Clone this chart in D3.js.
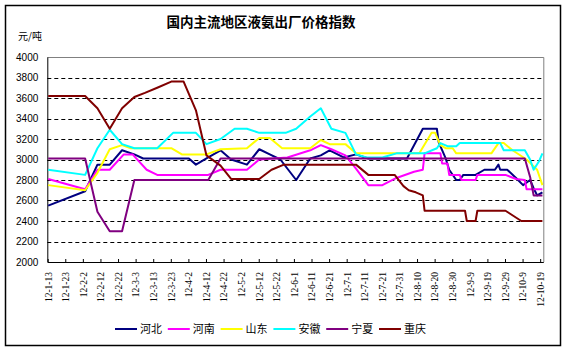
<!DOCTYPE html>
<html>
<head>
<meta charset="utf-8">
<script src="https://cdn.jsdelivr.net/npm/d3@7"></script>
<style>
  body { margin: 0; background: #fff; }
</style>
</head>
<body>
<svg id="chart" width="566" height="352"></svg>
<script>
/* data */
var title = "国内主流地区液氨出厂价格指数"
var unit = "元/吨"
var firstDay = "12-1-13"
var lastDay = "12-10-20"
var tickLabels = ["12-1-13", "12-1-23", "12-2-2", "12-2-12", "12-2-22", "12-3-3", "12-3-13",
  "12-3-23", "12-4-2", "12-4-12", "12-4-22", "12-5-2", "12-5-12", "12-5-22", "12-6-1",
  "12-6-11", "12-6-21", "12-7-1", "12-7-11", "12-7-21", "12-7-31", "12-8-10", "12-8-20",
  "12-8-30", "12-9-9", "12-9-19", "12-9-29", "12-10-9", "12-10-19"]
var yTicks = [2000, 2200, 2400, 2600, 2800, 3000, 3200, 3400, 3600, 3800, 4000]
var names = ["河北", "河南", "山东", "安徽", "宁夏", "重庆"]
var colors = ["#000080", "#ff00ff", "#ffff00", "#00ffff", "#800080", "#800000"]

// [月-日, 元/吨]
var hebei = [["1-13", 2550], ["2-3", 2690], ["2-10", 2950], ["2-17", 2950], ["2-24", 3090],
  ["3-2", 3050], ["3-7", 3010], ["4-2", 3010], ["4-6", 2950], ["4-12", 3010], ["4-20", 3090],
  ["4-26", 3000], ["5-5", 2950], ["5-12", 3100], ["5-18", 3050], ["5-24", 3000], ["6-2", 2800],
  ["6-10", 3010], ["6-16", 3040], ["6-21", 3090], ["6-29", 3020], ["7-6", 3050], ["7-13", 3010],
  ["8-4", 3010], ["8-13", 3300], ["8-21", 3300], ["8-22", 3170], ["8-26", 3010], ["8-28", 2900],
  ["9-1", 2800], ["9-3", 2800], ["9-5", 2850], ["9-12", 2850], ["9-17", 2900], ["9-23", 2900],
  ["9-25", 2950], ["9-26", 2900], ["9-30", 2900], ["10-5", 2820], ["10-9", 2750], ["10-13", 2800],
  ["10-15", 2720], ["10-17", 2650], ["10-20", 2680]]
var henan = [["1-13", 2810], ["2-3", 2710], ["2-10", 2900], ["2-17", 2900], ["2-25", 3050],
  ["3-1", 3050], ["3-9", 2900], ["3-15", 2850], ["4-13", 2850], ["4-20", 2900], ["5-5", 2900],
  ["5-12", 3000], ["5-20", 3010], ["5-28", 3020], ["6-10", 3090], ["6-16", 3140], ["6-22", 3100],
  ["6-30", 3040], ["7-6", 2910], ["7-13", 2750], ["7-21", 2750], ["7-29", 2820], ["8-8", 2880],
  ["8-13", 2900], ["8-14", 3060], ["8-23", 3060], ["8-24", 2960], ["8-27", 2960], ["8-28", 2850],
  ["9-3", 2850], ["9-4", 2800], ["9-12", 2800], ["9-13", 2850], ["9-29", 2850], ["10-5", 2810],
  ["10-10", 2800], ["10-11", 2710], ["10-20", 2710]]
var shandong = [["1-13", 2750], ["2-3", 2700], ["2-10", 2870], ["2-17", 3100], ["2-24", 3140],
  ["2-29", 3110], ["3-23", 3110], ["3-29", 3050], ["4-12", 3050], ["4-20", 3100], ["5-5", 3110],
  ["5-12", 3210], ["5-18", 3210], ["5-25", 3110], ["6-10", 3110], ["6-16", 3190], ["6-21", 3150],
  ["6-30", 3150], ["7-6", 3060], ["8-11", 3060], ["8-18", 3260], ["8-20", 3260], ["8-23", 3140],
  ["8-26", 3110], ["8-30", 3110], ["9-1", 3060], ["9-21", 3060], ["9-25", 3160], ["9-28", 3160],
  ["10-3", 3090], ["10-11", 3000], ["10-17", 2900], ["10-20", 2750]]
var anhui = [["1-13", 2900], ["2-3", 2850], ["2-10", 3110], ["2-17", 3290], ["2-24", 3150],
  ["3-2", 3110], ["3-15", 3110], ["3-24", 3260], ["4-6", 3260], ["4-12", 3150], ["4-20", 3200],
  ["4-28", 3300], ["5-5", 3300], ["5-12", 3260], ["5-27", 3260], ["6-2", 3300], ["6-10", 3420],
  ["6-16", 3500], ["6-22", 3300], ["6-30", 3260], ["7-6", 3050], ["7-12", 3020], ["7-21", 3020],
  ["7-29", 3060], ["8-14", 3060], ["8-21", 3110], ["8-23", 3160], ["8-27", 3130], ["9-1", 3130],
  ["9-3", 3160], ["9-26", 3160], ["9-28", 3090], ["10-10", 3090], ["10-13", 3000], ["10-15", 2900],
  ["10-18", 2980], ["10-20", 3060]]
var ningxia = [["1-13", 3010], ["2-3", 3010], ["2-10", 2490], ["2-17", 2300], ["2-24", 2300],
  ["3-2", 2800], ["4-13", 2800], ["4-20", 3010], ["10-10", 3010], ["10-13", 2830], ["10-15", 2650],
  ["10-20", 2650]]
var chongqing = [["1-13", 3620], ["2-3", 3620], ["2-10", 3500], ["2-17", 3300], ["2-24", 3500],
  ["3-2", 3610], ["3-8", 3650], ["3-15", 3700], ["3-23", 3760], ["3-30", 3760], ["4-6", 3480],
  ["4-12", 3040], ["4-20", 2940], ["4-26", 2810], ["5-12", 2810], ["5-19", 2900], ["5-26", 2950],
  ["7-6", 2950], ["7-13", 2850], ["7-28", 2850], ["8-2", 2740], ["8-5", 2700], ["8-9", 2680],
  ["8-13", 2650], ["8-14", 2500], ["9-6", 2500], ["9-7", 2400], ["9-12", 2400], ["9-13", 2500],
  ["9-29", 2500], ["10-8", 2400], ["10-20", 2400]]

var series = [hebei, henan, shandong, anhui, ningxia, chongqing]

/* const */
var plotLeft = 47.3, plotRight = 543.3, plotTop = 57, plotBottom = 262
var parse = d3.timeParse("%y-%m-%d")
var days = d3.timeDay.range(parse(firstDay), d3.timeDay.offset(parse(lastDay), 1))

var x = d3.scaleBand().domain(days).range([plotLeft, plotRight])
var y = d3.scaleLinear().domain([2000, 4000]).range([plotBottom, plotTop])

var svg = d3.select("#chart")

svg.append("rect")
    .attr("x", 0).attr("y", 0).attr("width", 566).attr("height", 352)
    .attr("fill", "#fff")

/* cadre extérieur */
svg.append("rect")
    .attr("x", 5.5).attr("y", 5.5).attr("width", 555).attr("height", 340)
    .attr("fill", "none").attr("stroke", "#000").attr("stroke-width", 1.5)

/* titre */
svg.append("text")
    .attr("x", 261).attr("y", 27)
    .attr("text-anchor", "middle")
    .style("font-family", "'Noto Sans CJK SC'")
    .style("font-size", "13.5px")
    .style("font-weight", "bold")
    .text(title)

svg.append("text")
    .attr("x", 18).attr("y", 39.5)
    .style("font-family", "'Noto Sans CJK SC'")
    .style("font-size", "10px")
    .text(unit)

/* grille */
svg.append("g")
    .selectAll("line")
    .data(yTicks.filter(function (v) { return v > 2000 && v < 4000 }))
    .enter()
    .append("line")
    .attr("x1", plotLeft).attr("x2", plotRight)
    .attr("y1", function (v) { return Math.round(y(v)) + 0.5 })
    .attr("y2", function (v) { return Math.round(y(v)) + 0.5 })
    .attr("stroke", "#000")
    .attr("stroke-dasharray", "4,3")

/* bord gris haut / droite */
svg.append("path")
    .attr("d", "M" + plotLeft + "," + (plotTop + 0.5) + "H" + (plotRight + 0.5) + "V" + plotBottom)
    .attr("fill", "none")
    .attr("stroke", "#808080")

/* axe Y */
var yAxis = svg.append("g")
    .attr("transform", "translate(" + plotLeft + ",0)")
    .call(d3.axisLeft(y).tickValues(yTicks).tickFormat(d3.format("d")).tickSize(0).tickPadding(9))
yAxis.select(".domain").attr("stroke", "#000")
yAxis.selectAll("text")
    .style("font-family", "'Liberation Sans'")
    .style("font-size", "10px")
    .attr("fill", "#000")

/* axe X */
var xAxis = svg.append("g")
    .attr("transform", "translate(0," + plotBottom + ")")
    .call(d3.axisBottom(x)
        .tickValues(tickLabels.map(function (t) { return parse(t) }))
        .tickFormat(function (d, i) { return tickLabels[i] })
        .tickSizeInner(-3)
        .tickSizeOuter(0))
xAxis.select(".domain").attr("stroke", "#000")
xAxis.selectAll(".tick line").attr("stroke", "#000")
xAxis.selectAll("text")
    .attr("transform", "rotate(-90)")
    .attr("x", -10)
    .attr("y", 0)
    .attr("dy", "0.35em")
    .style("text-anchor", "end")
    .style("font-family", "'Liberation Serif'")
    .style("font-size", "9.5px")
    .attr("fill", "#000")

/* courbes */
var line = d3.line()
    .x(function (d) { return x(parse("12-" + d[0])) + x.bandwidth() / 2 })
    .y(function (d) { return y(d[1]) })

svg.append("g")
    .selectAll("path")
    .data(series)
    .enter()
    .append("path")
    .attr("d", line)
    .attr("fill", "none")
    .attr("stroke", function (s, i) { return colors[i] })
    .attr("stroke-width", 2)
    .attr("stroke-linejoin", "round")

/* légende */
var legend = svg.append("g")
    .selectAll("g")
    .data(names)
    .enter()
    .append("g")
    .attr("transform", function (n, i) { return "translate(" + (115 + i * 52.8) + ",329)" })

legend.append("line")
    .attr("x1", 0).attr("x2", 22)
    .attr("stroke", function (n, i) { return colors[i] })
    .attr("stroke-width", 2)

legend.append("text")
    .attr("x", 25)
    .attr("dy", "0.38em")
    .style("font-family", "'Noto Sans CJK SC'")
    .style("font-size", "11px")
    .text(function (n) { return n })
</script>
</body>
</html>
